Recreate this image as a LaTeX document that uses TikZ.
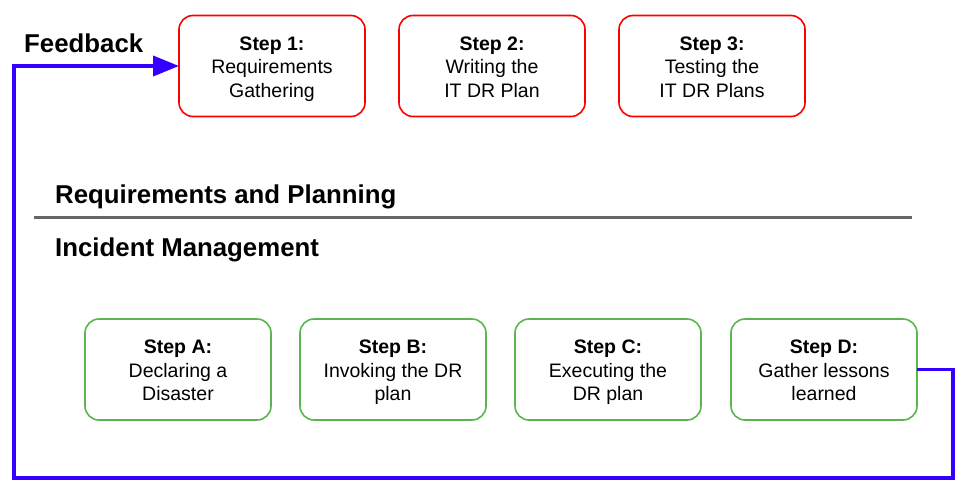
\documentclass[tikz,border=0pt]{standalone}
\usepackage{fontspec}
\setmainfont{Liberation Sans}
\usetikzlibrary{arrows.meta}
\usetikzlibrary{positioning}
\definecolor{planred}{RGB}{255,0,0}
\definecolor{incgreen}{RGB}{90,180,80}
\definecolor{fbblue}{RGB}{51,0,255}
\definecolor{divgray}{RGB}{102,102,102}
% three lines, same height and depth in every box
\newcommand{\steptext}[3]{\rule{0pt}{20pt}\textbf{#1}\\#2\\#3\rule[-5pt]{0pt}{5pt}}
\tikzset{
  stepbox/.style = {
    rectangle,
    rounded corners=14pt,
    line width=1.6pt,
    outer sep=0pt,
    minimum width=186pt,
    minimum height=101pt,
    align=center,
    inner sep=2pt,
    font=\fontsize{19.5}{23.5}\selectfont
  },
  planstep/.style = {stepbox, draw=planred},
  incstep/.style = {stepbox, draw=incgreen},
  heading/.style = {
    anchor=base west,
    inner sep=0pt,
    font=\fontsize{25.8}{30}\selectfont\bfseries
  },
  feedback/.style = {
    draw=fbblue,
    line width=3.8pt,
    -{Triangle[length=26pt,width=20pt]}
  },
}

\begin{document}
\begin{tikzpicture}[x=1pt,y=1pt]
  \useasboundingbox (0,0) rectangle (968,-493);

  % requirements and planning
  \node [planstep] (step1) at (272,-66) {\steptext{Step 1:}{Requirements}{Gathering}};
  \node [planstep,right=34pt of step1] (step2) {\steptext{Step 2:}{Writing the}{IT DR Plan}};
  \node [planstep,right=34pt of step2] (step3) {\steptext{Step 3:}{Testing the}{IT DR Plans}};

  % incident management
  \node [incstep] (stepA) at (178,-369.5) {\steptext{Step A:}{Declaring a}{Disaster}};
  \node [incstep,right=29pt of stepA] (stepB) {\steptext{Step B:}{Invoking the DR}{plan}};
  \node [incstep,right=29pt of stepB] (stepC) {\steptext{Step C:}{Executing the}{DR plan}};
  \node [incstep,right=30pt of stepC] (stepD) {\steptext{Step D:}{Gather lessons}{learned}};

  \node [heading] (feedbacklabel) at (24,-52) {Feedback};
  \node [heading] (planlabel) at (55,-203) {Requirements and Planning};
  \node [heading] (inclabel) at (55,-256) {Incident Management};

  \coordinate (divleft) at (34,-217.5);
  \coordinate (divright) at (912,-217.5);
  \draw [divgray,line width=3pt] (divleft) -- (divright);

  \coordinate (fb-bottom) at (14,-478);
  \draw [feedback] (stepD.east) -- ++(36pt,0) |- (fb-bottom) |- (step1.west);
\end{tikzpicture}
\end{document}
